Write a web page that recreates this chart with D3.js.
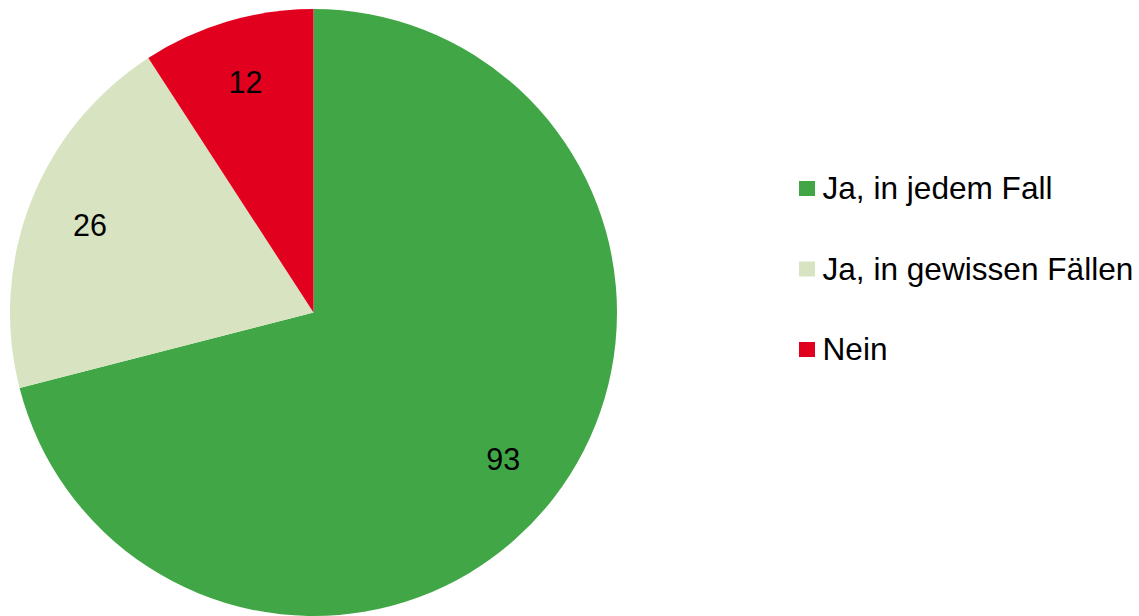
<!DOCTYPE html>
<html>
<head>
<meta charset="utf-8">
<script src="https://cdn.jsdelivr.net/npm/d3@7"></script>
<style>
  html, body { margin: 0; padding: 0; background: #fff; }
  svg { display: block; }
</style>
</head>
<body>
<div id="chart"></div>
<script>
const width = 1139;
const height = 616;

// Chart data
const categories = ["Ja, in jedem Fall", "Ja, in gewissen Fällen", "Nein"];
const values = [93, 26, 12];
const colors = ["#41a746", "#d8e4c1", "#e2001f"];

const font = "Liberation Sans, Arial, sans-serif";

const svg = d3
  .select("#chart")
  .append("svg")
  .attr("width", width)
  .attr("height", height);

const cx = 313.5;
const cy = 312.5;
const radius = 303.5;

const pie = d3.pie().sort(null).value((d) => d.value);
const arcs = pie(categories.map((c, i) => ({ name: c, value: values[i] })));

const arc = d3.arc().innerRadius(0).outerRadius(radius);
const labelArc = d3.arc().innerRadius(240).outerRadius(240);

const g = svg.append("g").attr("transform", `translate(${cx},${cy})`);

g.selectAll("path")
  .data(arcs)
  .enter()
  .append("path")
  .attr("d", arc)
  .attr("fill", (d, i) => colors[i]);

// value labels
g.selectAll("text")
  .data(arcs)
  .enter()
  .append("text")
  .attr("transform", (d) => `translate(${labelArc.centroid(d)})`)
  .attr("text-anchor", "middle")
  .attr("dy", "0.35em")
  .style("font-family", font)
  .style("font-size", "30.5px")
  .style("fill", "#000")
  .text((d) => d.data.value);

// legend
const legend = svg
  .append("g")
  .selectAll("g")
  .data(categories)
  .enter()
  .append("g")
  .attr("transform", (d, i) => `translate(799,${181 + i * 80.5})`);

legend
  .append("rect")
  .attr("width", 16)
  .attr("height", 15)
  .attr("fill", (d, i) => colors[i]);

legend
  .append("text")
  .attr("x", 23.5)
  .attr("y", 18)
  .style("font-family", font)
  .style("font-size", "31.6px")
  .style("fill", "#000")
  .text((d) => d);
</script>
</body>
</html>
